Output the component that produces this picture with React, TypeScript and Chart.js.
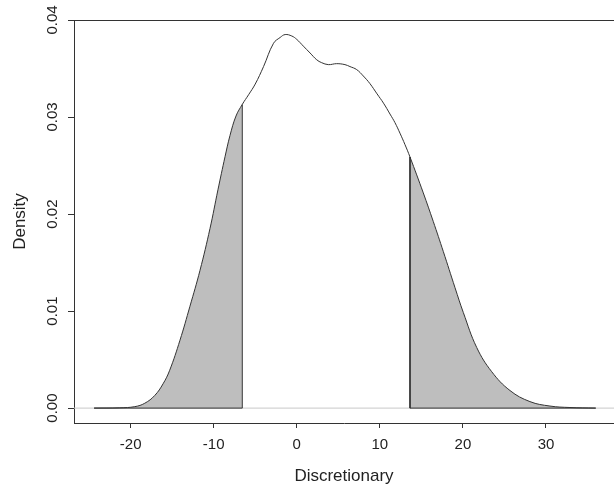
import React, { useEffect, useRef } from "react";
import { Chart, registerables } from "chart.js";

Chart.register(...registerables);

// Density estimate
const X_VALUES = [
  -24.4, -21.3, -19.5, -18.3, -17.1, -16.1, -15.3, -14.06, -12.86, -11.65, -10.45, -9.49, -8.64, -8.04, -7.32,
  -6.56, -5.8, -5.0, -4.0, -2.8, -2.0, -1.4, -0.6, 0, 0.8, 1.6, 2.4, 3.0, 3.8, 4.8, 5.8, 6.4, 7.21, 8.01, 8.81,
  9.66, 10.44, 11.22, 11.82, 12.42, 13.03, 13.63, 15.23, 16.43, 17.64, 19.05, 20.05, 21.66, 23.47, 25.67,
  28.07, 30.48, 32.89, 35.99,
];
const DENSITY = [
  0, 0.00003, 0.00015, 0.0005, 0.0013, 0.0025, 0.0039, 0.007, 0.0105, 0.0142, 0.0185, 0.0225, 0.0259, 0.0281,
  0.0301, 0.0313, 0.0323, 0.0334, 0.0352, 0.0376, 0.0382, 0.0385, 0.03835, 0.038, 0.0373, 0.0366, 0.0359,
  0.0356, 0.0354, 0.0355, 0.0354, 0.0352, 0.03489, 0.03423, 0.03344, 0.03239, 0.03143, 0.03031, 0.02942,
  0.02834, 0.02715, 0.02588, 0.02218, 0.01924, 0.01614, 0.01241, 0.00985, 0.00625, 0.00375, 0.00181, 0.00067,
  0.00021, 0.00006, 0,
];
const LEFT_CUT = -6.56;
const RIGHT_CUT = 13.63;

const X_TICKS = [-20, -10, 0, 10, 20, 30];
const Y_TICKS = [0, 0.01, 0.02, 0.03, 0.04];
const X_MIN = -26.82;
const X_MAX = 38.19;
const Y_MIN = -0.001536;
const Y_MAX = 0.04;

const X_TITLE = "Discretionary";
const Y_TITLE = "Density";

const FONT = "'Liberation Sans', Arial, Helvetica, sans-serif";
const LINE = "#333333";
const TEXT = "#222222";
const SHADE = "#BEBEBE";
const ABLINE = "#c8c8c8";
const TENSION = 0.4;

export default function App() {
  const ref = useRef<HTMLCanvasElement>(null);

  useEffect(() => {
    if (!ref.current) return;
    const pts = X_VALUES.map((x, i) => ({ x, y: DENSITY[i] }));
    const left = pts.filter((p) => p.x <= LEFT_CUT);
    const right = pts.filter((p) => p.x >= RIGHT_CUT);
    const leftEdge = [
      { x: X_VALUES[0], y: 0 },
      { x: LEFT_CUT, y: 0 },
      { x: LEFT_CUT, y: left[left.length - 1].y },
    ];
    const rightEdge = [
      { x: RIGHT_CUT, y: right[0].y },
      { x: RIGHT_CUT, y: 0 },
      { x: X_VALUES[X_VALUES.length - 1], y: 0 },
    ];

    const boxTop = {
      id: "boxTop",
      afterDraw(c: any) {
        const { ctx, chartArea: a } = c;
        ctx.save();
        ctx.strokeStyle = LINE;
        ctx.lineWidth = 1;
        const y = Math.round(a.top) + 0.5;
        ctx.beginPath();
        ctx.moveTo(a.left, y);
        ctx.lineTo(a.right, y);
        ctx.stroke();
        ctx.restore();
      },
    };

    const common = { pointRadius: 0, pointHoverRadius: 0 };

    const chart = new Chart(ref.current, {
      type: "line",
      data: {
        datasets: [
          {
            data: pts,
            borderColor: LINE,
            borderWidth: 1,
            fill: false,
            tension: TENSION,
            order: 0,
            ...common,
          },
          { data: leftEdge, borderColor: LINE, borderWidth: 1, fill: false, tension: 0, order: 1, ...common },
          { data: rightEdge, borderColor: LINE, borderWidth: 1, fill: false, tension: 0, order: 1, ...common },
          {
            data: left,
            borderWidth: 0,
            borderColor: "rgba(0,0,0,0)",
            backgroundColor: SHADE,
            fill: "origin",
            tension: TENSION,
            order: 2,
            ...common,
          },
          {
            data: right,
            borderWidth: 0,
            borderColor: "rgba(0,0,0,0)",
            backgroundColor: SHADE,
            fill: "origin",
            tension: TENSION,
            order: 2,
            ...common,
          },
          {
            data: [
              { x: X_MIN, y: 0 },
              { x: X_MAX, y: 0 },
            ],
            borderColor: ABLINE,
            borderWidth: 1,
            fill: false,
            tension: 0,
            order: 3,
            ...common,
          },
        ],
      },
      options: {
        animation: false,
        responsive: false,
        devicePixelRatio: 1,
        events: [],
        layout: { padding: { top: 20, right: 0, bottom: 0, left: 0 } },
        plugins: { legend: { display: false }, tooltip: { enabled: false } },
        scales: {
          x: {
            type: "linear",
            min: X_MIN,
            max: X_MAX,
            afterBuildTicks: (s: any) => {
              s.ticks = X_TICKS.map((v) => ({ value: v }));
            },
            afterFit: (s: any) => {
              s.height = 64;
            },
            grid: { drawOnChartArea: false, drawTicks: true, tickLength: 5, tickColor: LINE },
            border: { display: true, color: LINE, width: 1 },
            ticks: {
              font: { family: FONT, size: 15 },
              color: TEXT,
              padding: 8,
              minRotation: 0,
              maxRotation: 0,
              autoSkip: false,
              callback: (v: any) => String(v),
            },
            title: {
              display: true,
              text: X_TITLE,
              font: { family: FONT, size: 17 },
              color: TEXT,
              padding: { top: 0, bottom: 0 },
            },
          },
          y: {
            type: "linear",
            min: Y_MIN,
            max: Y_MAX,
            afterBuildTicks: (s: any) => {
              s.ticks = Y_TICKS.map((v) => ({ value: v }));
            },
            afterFit: (s: any) => {
              s.width = 74;
            },
            grid: { drawOnChartArea: false, drawTicks: true, tickLength: 6, tickColor: LINE },
            border: { display: true, color: LINE, width: 1 },
            ticks: {
              font: { family: FONT, size: 15 },
              color: TEXT,
              padding: 1,
              minRotation: 90,
              maxRotation: 90,
              crossAlign: "center",
              autoSkip: false,
              callback: (v: any) => Number(v).toFixed(2),
            },
            title: {
              display: true,
              text: Y_TITLE,
              font: { family: FONT, size: 17 },
              color: TEXT,
              padding: { top: 10, bottom: 0 },
            },
          },
        },
      },
      plugins: [boxTop],
    } as any);

    return () => chart.destroy();
  }, []);

  return (
    <div style={{ position: "absolute", left: 0, top: 0, width: 614, height: 487, background: "#fff" }}>
      <canvas ref={ref} width={614} height={487} style={{ display: "block", width: 614, height: 487 }} />
    </div>
  );
}
